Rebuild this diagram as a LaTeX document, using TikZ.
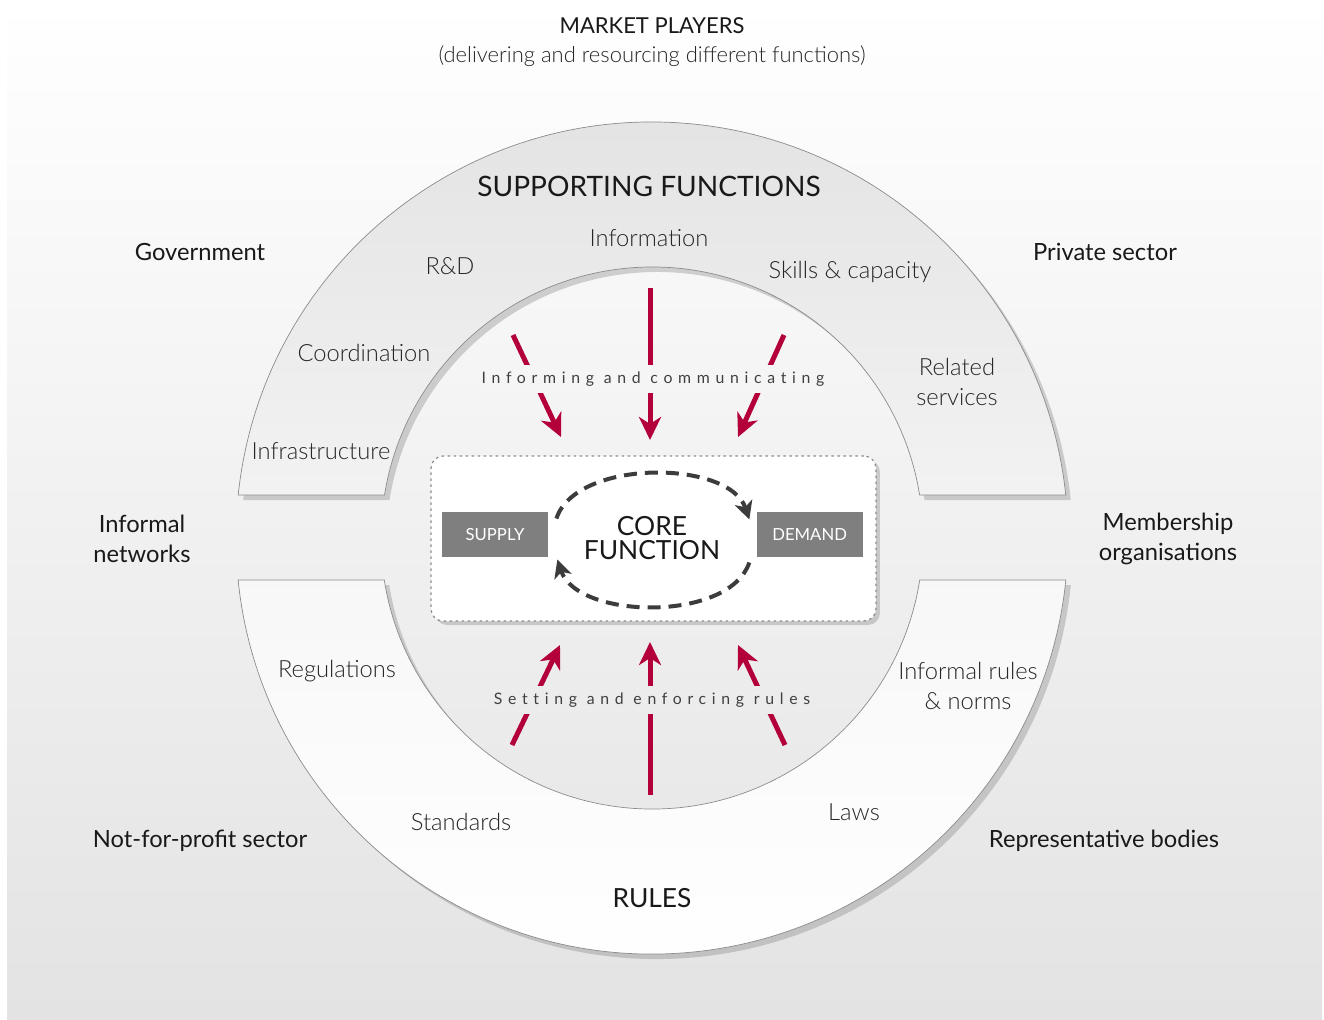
\documentclass[tikz,border=0pt]{standalone}
\usepackage{fontspec}
\setmainfont{Lato}
\newfontfamily\lightfont{Lato Light}
\usepackage{tikz}
\usetikzlibrary{arrows.meta,positioning,shadows}

\definecolor{crimson}{HTML}{B4003A}
\definecolor{boxgrey}{HTML}{7F7F7F}
\definecolor{dashgrey}{HTML}{3C3C3C}
\definecolor{textgrey}{HTML}{262626}

\begin{document}
\begin{tikzpicture}[x=0.02cm,y=-0.02cm,
  item/.style={font=\lightfont\fontsize{13.5}{17}\selectfont,text=textgrey,align=center},
  player/.style={font=\fontsize{13.5}{17}\selectfont,text=black!90,align=center},
  heading/.style={font=\fontsize{16}{20}\selectfont,text=black!90},
  ring/.style={draw=black!45,line width=0.4pt,drop shadow={shadow xshift=1mm,shadow yshift=-1mm,opacity=0.35}},
  flow/.style={draw=crimson,line width=1mm,-{Stealth[length=4.6mm,width=4.4mm,inset=1.4mm]}},
  band/.style={font=\fontsize{9}{11}\selectfont\addfontfeature{LetterSpace=36,Ligatures=NoCommon},text=black!75,inner sep=1pt,minimum height=5.6mm},
  side/.style={fill=boxgrey,text=white,minimum width=2.12cm,minimum height=0.9cm,font=\fontsize{9.5}{11}\selectfont},
  cyclearrow/.style={draw=dashgrey,line width=0.8mm,dash pattern=on 2.6mm off 1.6mm,-{Stealth[length=3.6mm,width=3.6mm,inset=1mm]}}]
\useasboundingbox (0,0) rectangle (1324,1019);
\shade[top color=white,bottom color=black!11] (7,0) rectangle (1322,1019);

% the two rings
\shade[ring,top color=black!11,bottom color=black!5] (238.2,495) arc[start angle=-174.07,end angle=-5.93,radius=416]
  -- (919.6,495) arc[start angle=-9.13,end angle=-170.87,radius=271] -- cycle;
\shade[ring,top color=black!3,bottom color=white] (238.1,580) arc[start angle=174.21,end angle=5.79,radius=416]
  -- (919.7,580) arc[start angle=8.92,end angle=171.08,radius=271] -- cycle;

% titles
\node[font=\fontsize{12.5}{15}\selectfont,text=black!90] (market) at (652,26) {MARKET PLAYERS};
\node[font=\lightfont\fontsize{12.5}{15}\selectfont,text=textgrey,below=-0.02cm of market] (marketsub) {(delivering and resourcing different functions)};
\node[heading] (supporting) at (649,186) {SUPPORTING FUNCTIONS};
\node[heading,font=\fontsize{15}{18}\selectfont] (rules) at (652,898) {RULES};

% market players round the rings
\node[player] (gov) at (200,252) {Government};
\node[player] (private) at (1105,252) {Private sector};
\node[player] (informal) at (142,539) {Informal\\networks};
\node[player] (member) at (1168,539) {Membership\\organisations};
\node[player] (nonprofit) at (200,841) {Not-for-profit sector};
\node[player] (represent) at (1104,841) {Representative bodies};

% supporting functions
\node[item] (info) at (649,238) {Information};
\node[item] (rnd) at (450,266) {R\&D};
\node[item] (skills) at (850,272) {Skills \& capacity};
\node[item] (coord) at (364,353) {Coordination};
\node[item] (related) at (957,382) {Related\\services};
\node[item] (infra) at (321,451) {Infrastructure};

% rules
\node[item] (regul) at (337,671) {Regulations};
\node[item] (norms) at (968,686) {Informal rules\\\& norms};
\node[item] (standards) at (461,822) {Standards};
\node[item] (laws) at (854,812) {Laws};

% red arrows into the core
\coordinate (ua1) at (513,335); \coordinate (ub1) at (561,437);
\coordinate (ua2) at (650,288); \coordinate (ub2) at (650,440);
\coordinate (ua3) at (784,335); \coordinate (ub3) at (738,437);
\coordinate (la1) at (512,745); \coordinate (lb1) at (560,645);
\coordinate (la2) at (650,795); \coordinate (lb2) at (650,642);
\coordinate (la3) at (785,745); \coordinate (lb3) at (738,645);
\path (ua1) edge[flow] (ub1) (ua2) edge[flow] (ub2) (ua3) edge[flow] (ub3)
  (la1) edge[flow] (lb1) (la2) edge[flow] (lb2) (la3) edge[flow] (lb3);
\node[band,fill=black!4] (inform) at (653,379) {Informing and communicating};
\node[band,fill=black!7.5] (setting) at (652,700) {Setting and enforcing rules};

% core function
\node[draw=black!45,line width=0.7pt,dash pattern=on 0.5mm off 0.7mm,fill=white,rounded corners=2.4mm,
  minimum width=8.9cm,minimum height=3.3cm,drop shadow={shadow xshift=0.8mm,shadow yshift=-0.8mm,opacity=0.35}] (core) at (653.5,538.5) {};
\node[side] (supply) at (495,534.5) {SUPPLY};
\node[side,right=4.16cm of supply] (demand) {DEMAND};
\node[font=\fontsize{15}{14}\selectfont,align=center,text=black!90] (corelabel) at (652,538) {CORE\\FUNCTION};
\draw[cyclearrow] ([shift={(8,-16)}]supply.east) .. controls +(20,-60) and +(-20,-60) .. ([shift={(-7,-15)}]demand.west);
\draw[cyclearrow] ([shift={(-7,28)}]demand.west) .. controls +(-20,60) and +(20,60) .. ([shift={(9,25)}]supply.east);
\end{tikzpicture}
\end{document}
